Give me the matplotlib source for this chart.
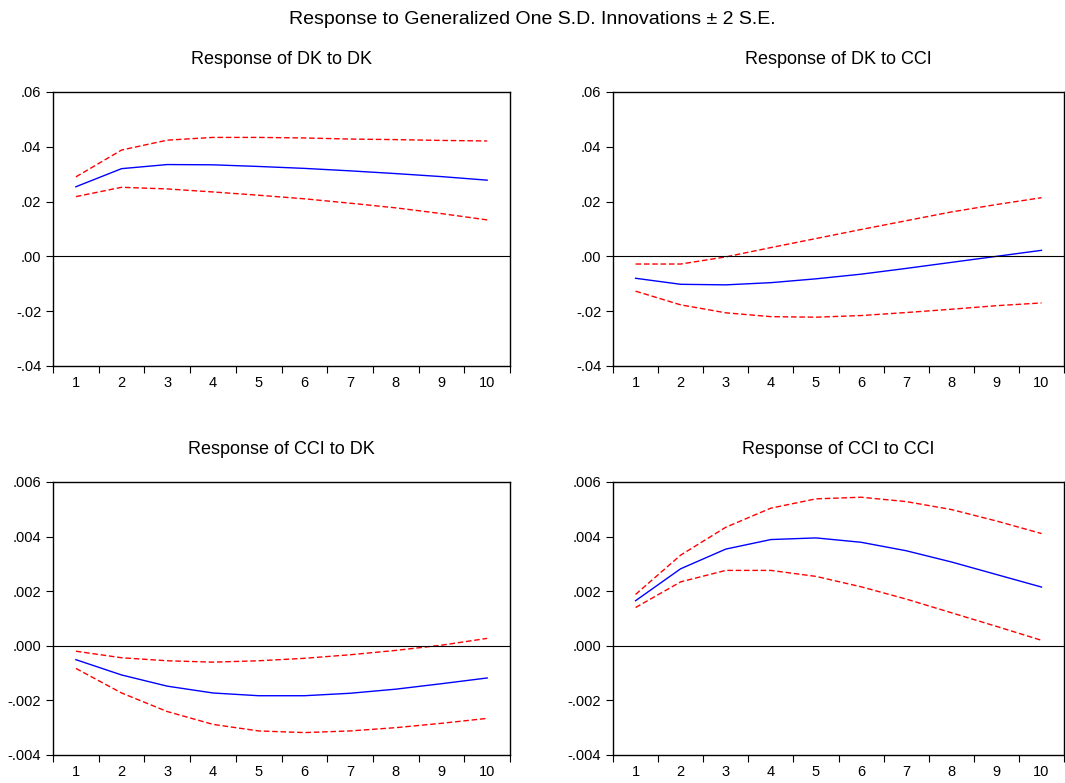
import numpy as np
import matplotlib.pyplot as plt

plt.rcParams['font.family'] = ['Liberation Sans', 'DejaVu Sans']

periods = np.arange(1, 11)

# Response of DK to DK
dk_dk = [0.0254, 0.0320, 0.0335, 0.0334, 0.0328, 0.0321, 0.0312, 0.0302, 0.0291, 0.0278]
dk_dk_up = [0.0290, 0.0388, 0.0424, 0.0434, 0.0434, 0.0432, 0.0428, 0.0426, 0.0423, 0.0421]
dk_dk_lo = [0.0218, 0.0252, 0.0246, 0.0235, 0.0223, 0.0210, 0.0194, 0.0177, 0.0156, 0.0133]

# Response of DK to CCI
dk_cci = [-0.0080, -0.0102, -0.0104, -0.0096, -0.0082, -0.0065, -0.0044, -0.0022, 0.0000, 0.0022]
dk_cci_up = [-0.0028, -0.0028, -0.0002, 0.0032, 0.0065, 0.0098, 0.0130, 0.0162, 0.0189, 0.0214]
dk_cci_lo = [-0.0127, -0.0177, -0.0206, -0.0220, -0.0222, -0.0216, -0.0205, -0.0193, -0.0180, -0.0170]

# Response of CCI to DK
cci_dk = [-0.00051, -0.00107, -0.00148, -0.00173, -0.00183, -0.00183, -0.00174, -0.00159, -0.00139, -0.00118]
cci_dk_up = [-0.00020, -0.00044, -0.00055, -0.00060, -0.00055, -0.00046, -0.00033, -0.00017, 0.00002, 0.00027]
cci_dk_lo = [-0.00083, -0.00173, -0.00241, -0.00288, -0.00312, -0.00318, -0.00312, -0.00300, -0.00284, -0.00266]

# Response of CCI to CCI
cci_cci = [0.00165, 0.00282, 0.00354, 0.00389, 0.00395, 0.00379, 0.00348, 0.00307, 0.00261, 0.00215]
cci_cci_up = [0.00188, 0.00332, 0.00434, 0.00504, 0.00538, 0.00544, 0.00528, 0.00499, 0.00457, 0.00411]
cci_cci_lo = [0.00140, 0.00234, 0.00276, 0.00276, 0.00254, 0.00216, 0.00171, 0.00121, 0.00071, 0.00020]

top_ticks = [-0.04, -0.02, 0.0, 0.02, 0.04, 0.06]
top_labels = ['-.04', '-.02', '.00', '.02', '.04', '.06']
bot_ticks = [-0.004, -0.002, 0.0, 0.002, 0.004, 0.006]
bot_labels = ['-.004', '-.002', '.000', '.002', '.004', '.006']

panels = [
    ('Response of DK to DK', dk_dk, dk_dk_up, dk_dk_lo, top_ticks, top_labels),
    ('Response of DK to CCI', dk_cci, dk_cci_up, dk_cci_lo, top_ticks, top_labels),
    ('Response of CCI to DK', cci_dk, cci_dk_up, cci_dk_lo, bot_ticks, bot_labels),
    ('Response of CCI to CCI', cci_cci, cci_cci_up, cci_cci_lo, bot_ticks, bot_labels),
]

positions = [
    [0.0498, 0.5326, 0.4291, 0.3500],
    [0.5756, 0.5326, 0.4235, 0.3500],
    [0.0498, 0.0358, 0.4291, 0.3487],
    [0.5756, 0.0358, 0.4235, 0.3487],
]

fig = plt.figure(figsize=(10.65, 7.83), dpi=100)
fig.suptitle('Response to Generalized One S.D. Innovations \u00b1 2 S.E.', y=0.986, fontsize=14)

for pos, (title, resp, up, lo, yt, yl) in zip(positions, panels):
    ax = fig.add_axes(pos)
    ax.plot(periods, resp, color='blue', lw=1.0)
    ax.plot(periods, up, color='red', lw=1.0, ls=(0, (4, 2)))
    ax.plot(periods, lo, color='red', lw=1.0, ls=(0, (4, 2)))
    ax.axhline(0, color='black', lw=0.8)
    ax.set_xlim(0.5, 10.5)
    ax.set_ylim(yt[0], yt[-1])
    ax.set_yticks(yt)
    ax.set_yticklabels(yl)
    ax.set_xticks(np.arange(0.5, 11, 1))
    ax.set_xticklabels([])
    ax.set_xticks(periods, minor=True)
    ax.set_xticklabels([str(p) for p in periods], minor=True)
    ax.tick_params(axis='x', which='minor', length=0, labelsize=10.5, pad=7)
    ax.tick_params(axis='x', which='major', length=5, direction='out')
    ax.tick_params(axis='y', length=5, direction='out', labelsize=10.5)
    ax.set_title(title, fontsize=13, pad=20)
    for s in ax.spines.values():
        s.set_linewidth(1.0)

fig.savefig('out.png', dpi=100)
